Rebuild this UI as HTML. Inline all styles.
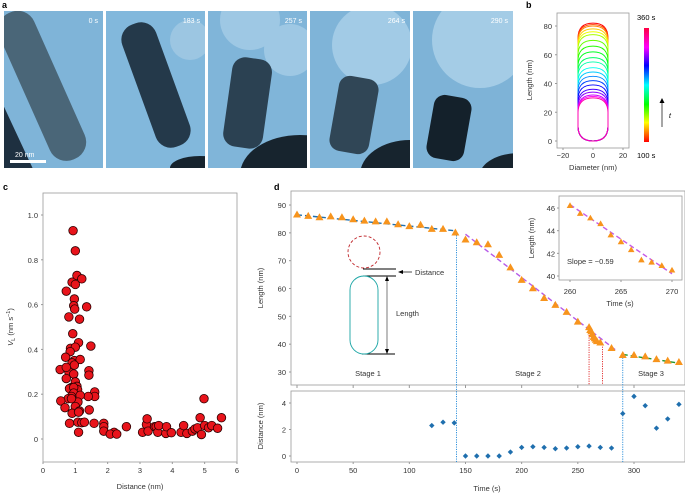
<!DOCTYPE html>
<html><head><meta charset="utf-8"><style>
body{margin:0;background:#fff;width:685px;height:494px;overflow:hidden}
svg{display:block;font-family:"Liberation Sans",Arial,sans-serif}
</style></head><body>
<svg id="fig" width="685" height="494" viewBox="0 0 685 494">
<defs>
<clipPath id="c1"><rect x="4" y="11" width="99" height="157"/></clipPath>
<clipPath id="c2"><rect x="106" y="11" width="99" height="157"/></clipPath>
<clipPath id="c3"><rect x="208" y="11" width="99" height="157"/></clipPath>
<clipPath id="c4"><rect x="310" y="11" width="100" height="157"/></clipPath>
<clipPath id="c5"><rect x="413" y="11" width="100" height="157"/></clipPath>
<linearGradient id="cb" x1="0" y1="1" x2="0" y2="0">
<stop offset="0" stop-color="#ff0000"/><stop offset="0.17" stop-color="#ffff00"/><stop offset="0.33" stop-color="#00ff00"/><stop offset="0.5" stop-color="#00ffff"/><stop offset="0.67" stop-color="#0000ff"/><stop offset="0.83" stop-color="#ff00ff"/><stop offset="1" stop-color="#ff0040"/></linearGradient>
</defs>
<text x="2" y="8" font-size="9" font-weight="bold">a</text>
<g>
<g clip-path="url(#c1)">
<rect x="4" y="11" width="99" height="157" fill="#7fb4d8"/>
<rect x="-25" y="60" width="30" height="160" fill="#1e3040" transform="rotate(-25 0 110)"/>
<rect x="25" y="5" width="38" height="160" rx="18" fill="#4a6678" transform="rotate(-24 45 90)"/>
<rect x="10" y="160" width="36" height="3" fill="#fff"/>
<text x="15" y="157" font-size="7" fill="#fff">20 nm</text>
<text x="98" y="23" font-size="7" fill="#fff" text-anchor="end">0 s</text></g>
<g clip-path="url(#c2)">
<rect x="106" y="11" width="99" height="157" fill="#82b8dc"/>
<rect x="170" y="20" width="40" height="40" rx="20" fill="#9cc6e2"/>
<rect x="138" y="20" width="36" height="130" rx="16" fill="#24394a" transform="rotate(-20 156 85)"/>
<ellipse cx="200" cy="168" rx="30" ry="12" fill="#17242e"/>
<text x="200" y="23" font-size="7" fill="#fff" text-anchor="end">183 s</text></g>
<g clip-path="url(#c3)">
<rect x="208" y="11" width="99" height="157" fill="#80b5d9"/>
<circle cx="250" cy="20" r="30" fill="#9ec8e4"/><circle cx="290" cy="50" r="26" fill="#9ec8e4"/>
<rect x="228" y="58" width="40" height="90" rx="13" fill="#2b4152" transform="rotate(8 248 100)"/>
<ellipse cx="300" cy="175" rx="60" ry="40" fill="#17242e"/>
<text x="302" y="23" font-size="7" fill="#fff" text-anchor="end">257 s</text></g>
<g clip-path="url(#c4)">
<rect x="310" y="11" width="100" height="157" fill="#7fb4d8"/>
<circle cx="372" cy="45" r="40" fill="#a2cbe6"/>
<rect x="334" y="77" width="40" height="76" rx="11" fill="#304656" transform="rotate(10 354 115)"/>
<ellipse cx="410" cy="175" rx="50" ry="35" fill="#17242e"/>
<text x="405" y="23" font-size="7" fill="#fff" text-anchor="end">264 s</text></g>
<g clip-path="url(#c5)">
<rect x="413" y="11" width="100" height="157" fill="#7eb3d7"/>
<circle cx="480" cy="40" r="48" fill="#a4cce6"/>
<rect x="430" y="96" width="38" height="64" rx="11" fill="#14212b" transform="rotate(10 449 128)"/>
<ellipse cx="520" cy="175" rx="40" ry="22" fill="#17242e"/>
<text x="508" y="23" font-size="7" fill="#fff" text-anchor="end">290 s</text></g>
</g>

<text x="526" y="8" font-size="9" font-weight="bold">b</text>
<g id="pb"></g>
<rect x="644" y="28" width="5" height="114" fill="url(#cb)"/>
<text x="637" y="20" font-size="7.5">360 s</text>
<text x="637" y="158" font-size="7.5">100 s</text>
<line x1="662" y1="127" x2="662" y2="101" stroke="#000" stroke-width="0.7"/><path d="M659.5,103 L662,98 L664.5,103Z" fill="#000"/>
<text x="669" y="118" font-size="7" font-style="italic">t</text>

<text x="3" y="190" font-size="9" font-weight="bold">c</text>
<g id="pc"></g>
<text x="274" y="190" font-size="9" font-weight="bold">d</text>
<g id="pd"></g>
</svg>
<script>
// ---- Panel b data ----
const contourFracs=[0,0.05,0.1,0.15,0.2,0.25,0.3,0.35,0.4,0.45,0.5,0.55,0.6,0.65,0.7,0.75,0.8,0.85,0.9,0.95,1];
const contourTops=[82,81,80,78,76,74,70,66,62,58,55,51,48,45,42,39,36,34,32,31,30];
// ---- Panel c data ----
const cDist=[0.93,1.0,0.72,0.9,1.05,1.2,1.0,0.97,0.95,0.98,1.35,0.8,1.13,0.92,1.1,1.48,0.85,1.0,0.84,0.7,0.97,1.15,0.9,0.97,0.53,0.8,1.42,0.72,0.95,0.72,1.42,1.0,0.88,0.82,1.05,1.07,0.95,1.6,1.6,1.4,0.95,0.88,1.15,0.78,0.55,1.08,0.88,0.68,1.0,1.43,1.13,0.9,1.1,0.82,1.08,1.2,1.28,1.58,1.1,1.88,1.88,1.88,2.2,2.08,2.28,2.58,3.08,3.2,3.22,3.25,3.45,3.5,3.55,3.58,3.8,3.82,3.97,4.27,4.35,4.45,4.62,4.7,4.78,4.86,4.9,4.98,5.0,5.12,5.22,5.4,5.52];
const cVel=[0.93,0.84,0.66,0.70,0.73,0.715,0.69,0.625,0.595,0.58,0.59,0.545,0.535,0.47,0.43,0.415,0.405,0.41,0.39,0.365,0.35,0.355,0.34,0.33,0.31,0.3,0.305,0.32,0.29,0.27,0.285,0.255,0.23,0.225,0.235,0.22,0.23,0.21,0.19,0.19,0.205,0.19,0.195,0.18,0.17,0.165,0.18,0.14,0.145,0.13,0.125,0.115,0.12,0.07,0.075,0.073,0.075,0.07,0.03,0.07,0.055,0.035,0.03,0.022,0.022,0.055,0.03,0.065,0.09,0.035,0.055,0.055,0.03,0.06,0.025,0.055,0.028,0.03,0.06,0.025,0.035,0.045,0.05,0.095,0.02,0.18,0.06,0.05,0.06,0.048,0.095];
const cXTicks=[0,1,2,3,4,5,6];
const cYTicks=[0,0.2,0.4,0.6,0.8,1.0];
// ---- Panel d data ----
const dTime=[0,10,20,30,40,50,60,70,80,90,100,110,120,130,141,150,160,170,180,190,200,210,220,230,240,250,260,261,262,263,264,265,266,267,270,280,290,300,310,320,330,340];
const dLen=[86.5,86,85.5,85.8,85.5,84.8,84.3,84,84,83,82.3,82.8,81.3,81.3,80,77.5,76.5,75.8,72,67.5,63,60,56.5,54,51.5,48,46,45,44.5,43.5,42.5,42,41.5,41,40.5,38.5,36,36,35.5,34.5,34,33.5];
const distTime=[120,130,140,150,160,170,180,190,200,210,220,230,240,250,260,270,280,290,300,310,320,330,340];
const distVal=[2.3,2.55,2.5,0,0,0,0,0.3,0.65,0.7,0.65,0.55,0.6,0.7,0.75,0.65,0.6,3.2,4.5,3.8,2.1,2.8,3.9];
const insetTime=[260,261,262,263,264,265,266,267,268,269,270];
const insetLen=[46.2,45.5,45.1,44.6,43.6,43.0,42.3,41.4,41.2,40.9,40.5];
const dXTicks=[0,50,100,150,200,250,300];
const dYTicks=[30,40,50,60,70,80,90];
const distTicks=[0,2,4];
const insetXTicks=[260,265,270];
const insetYTicks=[40,42,44,46];
const fitLines=[[0,86.5,140,80.8,'#1f6fae'],[150,79.5,285,37.5,'#b65ae8'],[290,36.3,340,33.2,'#22962a']];

const NS='http://www.w3.org/2000/svg';
function mk(parent,tag,attrs){const e=document.createElementNS(NS,tag);for(const k in attrs)e.setAttribute(k,attrs[k]);parent.appendChild(e);return e;}
function txt(parent,x,y,s,size,anchor,extra){const t=mk(parent,'text',Object.assign({x:x,y:y,'font-size':size,'text-anchor':anchor||'middle',fill:'#333'},extra||{}));t.textContent=s;return t;}

// ---- Panel b ----
(function(){
const g=document.getElementById('pb');
const X=d=>593+d*1.5, Y=L=>141-L*1.4375;
const fr=mk(g,'rect',{x:557,y:13,width:72,height:135,fill:'none',stroke:'#999','stroke-width':0.8});

contourFracs.forEach((f,i)=>{
 const top=contourTops[i];const hue=f*320;
 const x0=X(-10),x1=X(10),yt=Y(top),yb=Y(0),r=15;
 const p=mk(g,'path',{d:`M${x0},${yb-r} L${x0},${yt+r} Q${x0},${yt} ${x0+r},${yt} L${x1-r},${yt} Q${x1},${yt} ${x1},${yt+r} L${x1},${yb-r} Q${x1},${yb} ${x1-r},${yb} L${x0+r},${yb} Q${x0},${yb} ${x0},${yb-r}Z`,fill:'none',stroke:`hsl(${hue},100%,50%)`,'stroke-width':0.9});
 
});
[0,20,40,60,80].forEach(v=>{mk(g,'line',{x1:555,x2:557,y1:Y(v),y2:Y(v),stroke:'#999'});txt(g,552,Y(v)+3,v,7.5,'end');});
[-20,0,20].forEach(v=>{mk(g,'line',{x1:X(v),x2:X(v),y1:148,y2:150,stroke:'#999'});txt(g,X(v),158,v===-20?'−20':v,7.5);});
txt(g,593,170,'Diameter (nm)',7.5);
txt(g,0,0,'Length (nm)',7.5,'middle',{transform:'translate(532,80) rotate(-90)'});
})();

// ---- Panel c ----
(function(){
const g=document.getElementById('pc');
const X=v=>43+v*32.33, Y=v=>439-v*224;
const fr=mk(g,'rect',{x:43,y:193,width:194,height:269,fill:'none',stroke:'#999','stroke-width':0.8});

cYTicks.forEach(v=>{mk(g,'line',{x1:41,x2:43,y1:Y(v),y2:Y(v),stroke:'#999'});txt(g,38,Y(v)+3,v===0?'0':v.toFixed(1),7.5,'end');});
cXTicks.forEach(v=>{mk(g,'line',{x1:X(v),x2:X(v),y1:462,y2:464,stroke:'#999'});txt(g,X(v),473,v,7.5);});
txt(g,140,489,'Distance (nm)',7.5);
const yl=txt(g,0,0,'',7.5,'middle',{transform:'translate(13,327) rotate(-90)'});
yl.innerHTML='<tspan font-style="italic">V</tspan><tspan font-size="5.5" dy="2">L</tspan><tspan dy="-2"> (nm s</tspan><tspan font-size="5.5" dy="-3">−1</tspan><tspan dy="3">)</tspan>';
cDist.forEach((d,i)=>{const c=mk(g,'circle',{cx:X(d),cy:Y(cVel[i]),r:4.3,fill:'#e8141b',stroke:'#2a0000','stroke-width':0.8});
});
})();

// ---- Panel d ----
(function(){
const g=document.getElementById('pd');
const X=t=>297+t*1.1233, Y=L=>372-(L-30)*2.783, YD=v=>456-v*13.25;
const fr=mk(g,'rect',{x:291,y:191,width:394,height:194,fill:'none',stroke:'#999','stroke-width':0.8});

const fr2=mk(g,'rect',{x:291,y:391,width:394,height:71,fill:'none',stroke:'#999','stroke-width':0.8});

dYTicks.forEach(v=>{mk(g,'line',{x1:289,x2:291,y1:Y(v),y2:Y(v),stroke:'#999'});txt(g,286,Y(v)+3,v,7.5,'end');});
distTicks.forEach(v=>{mk(g,'line',{x1:289,x2:291,y1:YD(v),y2:YD(v),stroke:'#999'});txt(g,286,YD(v)+3,v,7.5,'end');});
dXTicks.forEach(v=>{mk(g,'line',{x1:X(v),x2:X(v),y1:462,y2:464,stroke:'#999'});mk(g,'line',{x1:X(v),x2:X(v),y1:385,y2:388,stroke:'#999'});txt(g,X(v),473,v,7.5);});
txt(g,487,491,'Time (s)',7.5);
txt(g,0,0,'Length (nm)',7.5,'middle',{transform:'translate(263,288) rotate(-90)'});
txt(g,0,0,'Distance (nm)',7.5,'middle',{transform:'translate(263,426) rotate(-90)'});
mk(g,'line',{x1:X(142),x2:X(142),y1:Y(80),y2:462,stroke:'#1e88d8','stroke-width':0.9,'stroke-dasharray':'1.2,1.2'});
mk(g,'line',{x1:X(290),x2:X(290),y1:Y(36),y2:462,stroke:'#1e88d8','stroke-width':0.9,'stroke-dasharray':'1.2,1.2'});
mk(g,'line',{x1:X(260),x2:X(260),y1:Y(45),y2:385,stroke:'#e02020','stroke-width':0.9,'stroke-dasharray':'1.2,1.2'});
mk(g,'line',{x1:X(272),x2:X(272),y1:Y(40),y2:385,stroke:'#e02020','stroke-width':0.9,'stroke-dasharray':'1.2,1.2'});
txt(g,368,376,'Stage 1',7.5);txt(g,528,376,'Stage 2',7.5);txt(g,651,376,'Stage 3',7.5);
mk(g,'circle',{cx:364,cy:252,r:16,fill:'none',stroke:'#c0282d','stroke-width':0.9,'stroke-dasharray':'3,2'});
mk(g,'line',{x1:363,x2:396,y1:269,y2:269,stroke:'#000','stroke-width':0.9});
mk(g,'line',{x1:363,x2:396,y1:276,y2:276,stroke:'#000','stroke-width':0.9});
mk(g,'line',{x1:362,x2:395,y1:354,y2:354,stroke:'#000','stroke-width':0.9});
mk(g,'rect',{x:350,y:276,width:28,height:78,rx:14,fill:'none',stroke:'#1aa5a5','stroke-width':0.9});
mk(g,'line',{x1:387,x2:387,y1:279,y2:351,stroke:'#444','stroke-width':0.7});
mk(g,'path',{d:'M385,281 L387,276 L389,281Z M385,349 L387,354 L389,349Z',fill:'#000'});
mk(g,'line',{x1:400,x2:412,y1:272,y2:272,stroke:'#000','stroke-width':0.7});
mk(g,'path',{d:'M403,270 L398,272 L403,274Z',fill:'#000'});
txt(g,415,275,'Distance',7.5,'start');txt(g,396,316,'Length',7.5,'start');
fitLines.forEach(f=>{const l=mk(g,'line',{x1:X(f[0]),y1:Y(f[1]),x2:X(f[2]),y2:Y(f[3]),stroke:f[4],'stroke-width':1.4,'stroke-dasharray':'5,3'});
});
dTime.forEach((t,i)=>{const x=X(t),y=Y(dLen[i]);const p=mk(g,'path',{d:`M${x},${y-4.3} L${x+4},${y+2.7} L${x-4},${y+2.7}Z`,fill:'#f7941d'});
});
distTime.forEach((t,i)=>{const x=X(t),y=YD(distVal[i]);const p=mk(g,'path',{d:`M${x},${y-2.7} L${x+2.7},${y} L${x},${y+2.7} L${x-2.7},${y}Z`,fill:'#1f6fae'});
});
const IX=t=>570+(t-260)*10.2, IY=L=>276-(L-40)*11.33;
const ifr=mk(g,'rect',{x:559,y:196,width:123,height:84,fill:'#fff',stroke:'#999','stroke-width':0.8});

insetYTicks.forEach(v=>{mk(g,'line',{x1:557,x2:559,y1:IY(v),y2:IY(v),stroke:'#999'});txt(g,555,IY(v)+3,v,7.5,'end');});
insetXTicks.forEach(v=>{mk(g,'line',{x1:IX(v),x2:IX(v),y1:280,y2:282,stroke:'#999'});txt(g,IX(v),294,v,7.5);});
txt(g,620,306,'Time (s)',7.5);
txt(g,0,0,'Length (nm)',7.5,'middle',{transform:'translate(534,238) rotate(-90)'});
mk(g,'line',{x1:IX(260),y1:IY(46.3),x2:IX(270),y2:IY(40.2),stroke:'#c65ae8','stroke-width':1.4,'stroke-dasharray':'5,3'});
insetTime.forEach((t,i)=>{const x=IX(t),y=IY(insetLen[i]);const p=mk(g,'path',{d:`M${x},${y-3.5} L${x+3.3},${y+2.2} L${x-3.3},${y+2.2}Z`,fill:'#f7941d'});
});
txt(g,567,264,'Slope = −0.59',7.5,'start');
})();
</script>
</body></html>
